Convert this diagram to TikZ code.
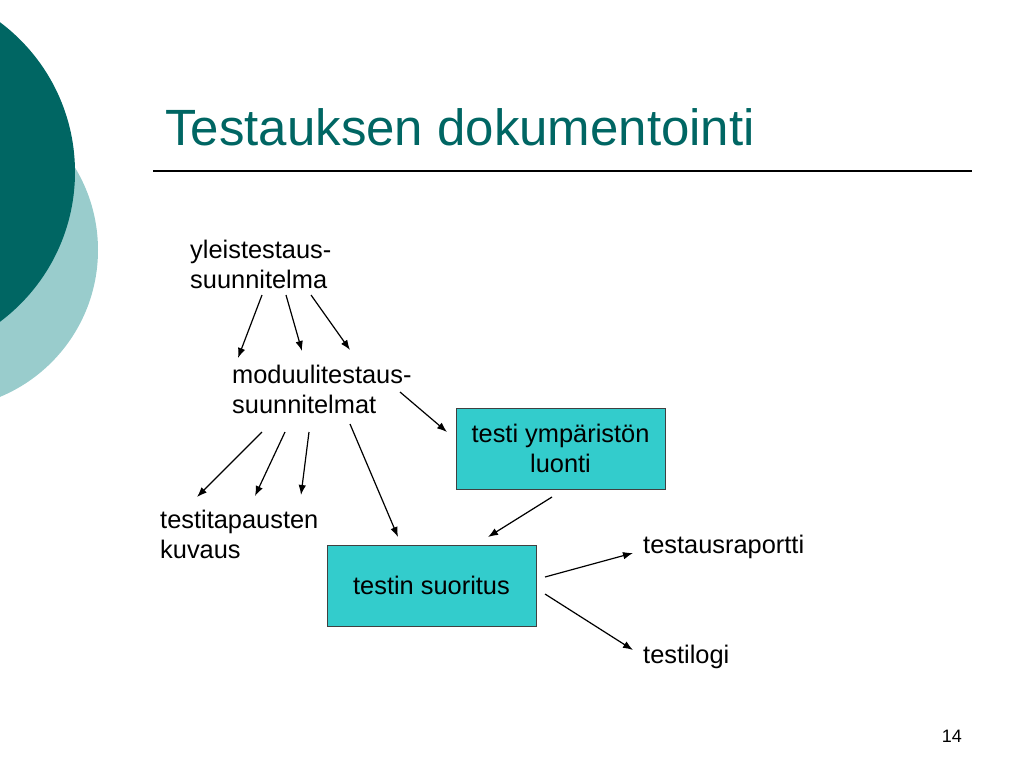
\documentclass[tikz,border=0pt]{standalone}
\usepackage{fontspec}
\setmainfont{Liberation Sans}
\usetikzlibrary{arrows.meta}
\definecolor{darkteal}{RGB}{0,102,99}
\definecolor{lightteal}{RGB}{153,204,204}
\definecolor{boxcyan}{RGB}{51,204,204}
\begin{document}
\begin{tikzpicture}[x=1pt,y=-1pt,
  txt/.style={anchor=north west,inner sep=0pt,align=left,font=\fontsize{25.4}{30}\selectfont},
  box/.style={draw=black!75,line width=0.9pt,fill=boxcyan,minimum width=209pt,minimum height=81pt,align=center,font=\fontsize{25.4}{30}\selectfont},
  arr/.style={-{Latex[length=10pt,width=7.5pt]},line width=1.2pt}]

  \useasboundingbox (0,0) rectangle (1024,768);
  \fill[lightteal] (-61,250) circle (159pt);
  \fill[darkteal] (-112,172) circle (187pt);

  \node[anchor=base west,inner sep=0pt,text=darkteal,font=\fontsize{51}{60}\selectfont] (title) at (165,145) {Testauksen dokumentointi};
  \draw[line width=1.2pt] (153,171) -- (972,171);

  \node[txt] (yleis) at (190,240) {yleistestaus-\\suunnitelma};
  \node[txt] (modu) at (232,365) {moduulitestaus-\\suunnitelmat};
  \node[txt] (tapaus) at (160,510) {testitapausten\\kuvaus};
  \node[box] (ymp) at (560.5,448.5) {testi ympäristön\\luonti};
  \node[box] (suor) at (431.5,585.5) {testin suoritus};
  \node[txt] (raportti) at (643,535) {testausraportti};
  \node[txt] (logi) at (643,645) {testilogi};
  \node[anchor=base east,inner sep=0pt,font=\fontsize{18}{20}\selectfont] (sivu) at (962,742) {14};

  % arrow ends
  \coordinate (y1) at (262,295);  \coordinate (m1) at (238,358);
  \coordinate (y2) at (286,295);  \coordinate (m2) at (302,351);
  \coordinate (y3) at (311,295);  \coordinate (m3) at (350,350);
  \coordinate (m4) at (400,392);  \coordinate (e1) at (447,432);
  \coordinate (m5) at (262,432);  \coordinate (t1) at (197,497);
  \coordinate (m6) at (285,432);  \coordinate (t2) at (255,496);
  \coordinate (m7) at (309,432);  \coordinate (t3) at (301,495);
  \coordinate (m8) at (350,424);  \coordinate (s1) at (398,537);
  \coordinate (e2) at (552,497);  \coordinate (s2) at (488,537);
  \coordinate (s3) at (545,577);  \coordinate (r1) at (633,553);
  \coordinate (s4) at (545,594);  \coordinate (l1) at (633,650);

  \path
   (y1) edge[arr] (m1)
   (y2) edge[arr] (m2)
   (y3) edge[arr] (m3)
   (m4) edge[arr] (e1)
   (m5) edge[arr] (t1)
   (m6) edge[arr] (t2)
   (m7) edge[arr] (t3)
   (m8) edge[arr] (s1)
   (e2) edge[arr] (s2)
   (s3) edge[arr] (r1)
   (s4) edge[arr] (l1);
\end{tikzpicture}
\end{document}
